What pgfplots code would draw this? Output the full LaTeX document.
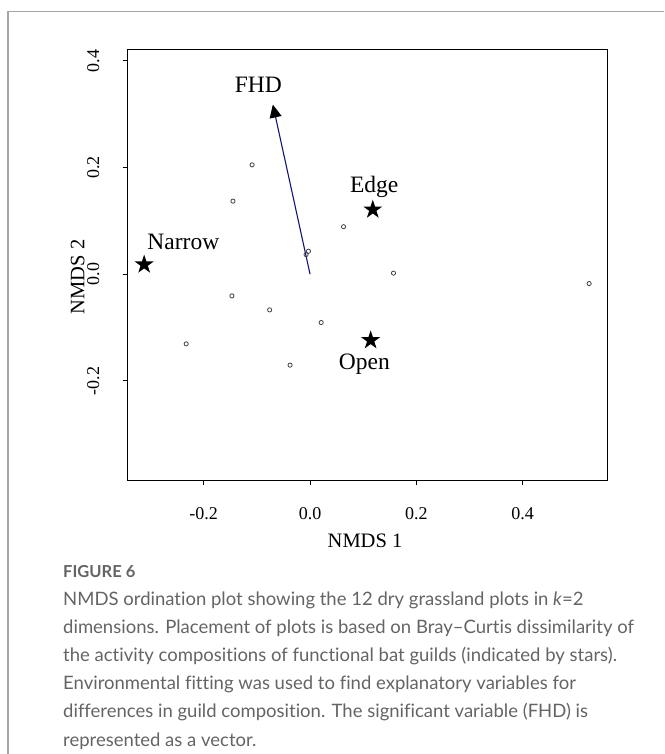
\documentclass[border=0pt]{standalone}
\usepackage{fontspec}
\setmainfont{Liberation Serif}
\newfontfamily\capfont{Lato}[Ligatures=CommonOff]
\usepackage{pgfplots}
\pgfplotsset{compat=1.18}
\usetikzlibrary{arrows.meta}

\definecolor{capgray}{RGB}{100,100,100}
\definecolor{vecblue}{RGB}{20,20,120}

% filled five-pointed star
\pgfdeclareplotmark{fstar}{%
  \pgfpathmoveto{\pgfpointpolar{90}{\pgfplotmarksize}}%
  \pgfpathlineto{\pgfpointpolar{126}{0.382\pgfplotmarksize}}%
  \pgfpathlineto{\pgfpointpolar{162}{\pgfplotmarksize}}%
  \pgfpathlineto{\pgfpointpolar{198}{0.382\pgfplotmarksize}}%
  \pgfpathlineto{\pgfpointpolar{234}{\pgfplotmarksize}}%
  \pgfpathlineto{\pgfpointpolar{270}{0.382\pgfplotmarksize}}%
  \pgfpathlineto{\pgfpointpolar{306}{\pgfplotmarksize}}%
  \pgfpathlineto{\pgfpointpolar{342}{0.382\pgfplotmarksize}}%
  \pgfpathlineto{\pgfpointpolar{18}{\pgfplotmarksize}}%
  \pgfpathlineto{\pgfpointpolar{54}{0.382\pgfplotmarksize}}%
  \pgfpathclose\pgfusepathqfill}

\begin{document}
\begin{tikzpicture}
\path[use as bounding box] (0,0) rectangle (664pt,-754pt);
\draw[black!35, line width=1.2pt] (8pt,-754pt) -- (8pt,-11.5pt) -- (664pt,-11.5pt);

\begin{axis}[
  at={(127.7pt,-480pt)}, anchor=south west,
  scale only axis, width=479.3pt, height=430.7pt,
  xmin=-0.343, xmax=0.5586, ymin=-0.386, ymax=0.4217,
  axis line style={line width=1pt},
  tick style={line width=1pt, black},
  tick align=outside, major tick length=5pt, tick pos=left,
  xtick={-0.2,0,0.2,0.4}, xticklabels={-0.2,0.0,0.2,0.4},
  ytick={-0.2,0,0.2,0.4}, yticklabels={-0.2,0.0,0.2,0.4},
  ticklabel style={font=\fontsize{18}{20}\selectfont, inner sep=0pt},
  xticklabel style={anchor=base, yshift=-34pt},
  yticklabel style={anchor=base, rotate=90, yshift=23.7pt},
  xlabel={NMDS 1}, ylabel={NMDS 2},
  label style={font=\fontsize{20.5}{22}\selectfont, inner sep=0pt},
  xlabel style={at={(axis description cs:0.4951,-0.1563)}, anchor=base},
  ylabel style={at={(axis description cs:-0.0906,0.4713)}, anchor=base},
  clip=false
]
% plots (sites)
\addplot[only marks, mark=o, mark size=2.1pt, black!75, mark options={line width=0.8pt}] coordinates {
(-0.109,0.205) (-0.145,0.137) (0.063,0.089) (-0.0075,0.0367) (-0.003,0.043)
(0.157,0.002) (-0.147,-0.0407) (-0.076,-0.067) (0.021,-0.0907)
(-0.233,-0.1307) (-0.0376,-0.1706) (0.525,-0.0176)
};
% guilds
\addplot[only marks, mark=fstar, mark size=10pt, black] coordinates {
(-0.312,0.018) (0.118,0.121) (0.114,-0.124)
};
% fitted vector
\addplot[vecblue, line width=1.1pt, -{Triangle[black, length=13pt, width=12pt]}] coordinates {
(0,0) (-0.070,0.318)
};
\node[anchor=base, font=\fontsize{23.5}{25}\selectfont, inner sep=0pt] at (axis cs:-0.0972,0.3405) {FHD};
\node[anchor=base, font=\fontsize{23.5}{25}\selectfont, inner sep=0pt] at (axis cs:0.1207,0.153) {Edge};
\node[anchor=base, font=\fontsize{23.5}{25}\selectfont, inner sep=0pt] at (axis cs:-0.2383,0.0469) {Narrow};
\node[anchor=base, font=\fontsize{23.5}{25}\selectfont, inner sep=0pt] at (axis cs:0.1021,-0.1795) {Open};
\end{axis}

\begin{scope}[every node/.style={anchor=base west, inner sep=0pt, text=capgray, font=\capfont\fontsize{18.5}{22}\selectfont}]
\node[font=\capfont\bfseries\fontsize{16.5}{18}\selectfont] at (63pt,-577pt) {FIGURE 6};
\node at (63pt,-605pt) {NMDS ordination plot showing the 12 dry grassland plots in \textit{k}=2};
\node at (63pt,-633.2pt) {dimensions. Placement of plots is based on Bray–Curtis dissimilarity of};
\node at (63pt,-661.4pt) {the activity compositions of functional bat guilds (indicated by stars).};
\node at (63pt,-689.6pt) {Environmental fitting was used to find explanatory variables for};
\node at (63pt,-717.8pt) {differences in guild composition. The significant variable (FHD) is};
\node at (63pt,-746pt) {represented as a vector.};
\end{scope}
\end{tikzpicture}
\end{document}
